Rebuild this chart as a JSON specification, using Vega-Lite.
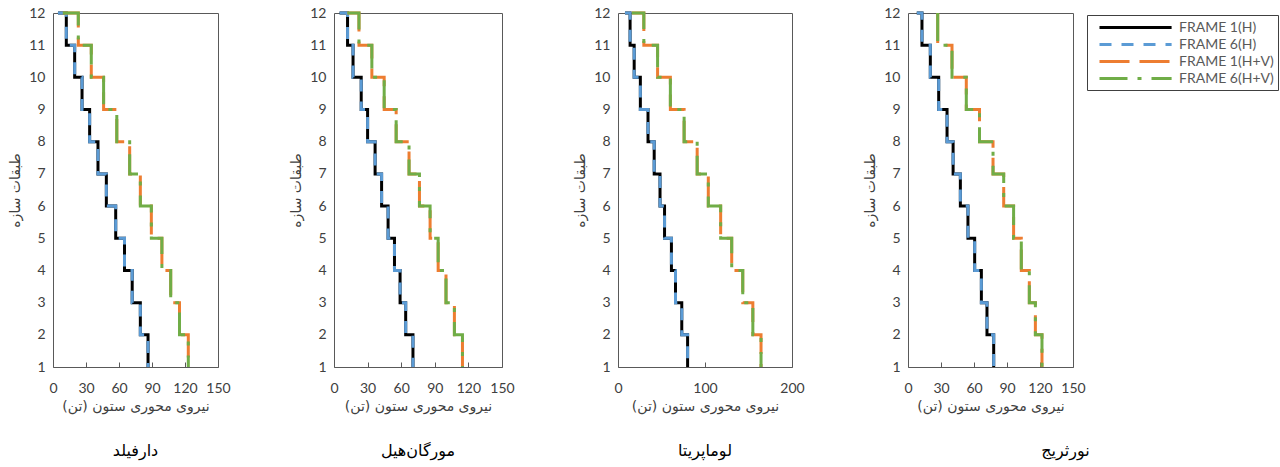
{
  "$schema": "https://vega.github.io/schema/vega-lite/v6.json",
  "background": "white",
  "padding": {"left": 8, "top": 5, "right": 2, "bottom": 5},
  "datasets": {
    "d": [
      {"panel": "p1", "story": 12, "FRAME 1(H)": 4.5, "FRAME 6(H)": 4.5, "FRAME 1(H+V)": 9, "FRAME 6(H+V)": 9},
      {"panel": "p1", "story": 11, "FRAME 1(H)": 12.1, "FRAME 6(H)": 12.1, "FRAME 1(H+V)": 23, "FRAME 6(H+V)": 23},
      {"panel": "p1", "story": 10, "FRAME 1(H)": 19.7, "FRAME 6(H)": 19.7, "FRAME 1(H+V)": 34.8, "FRAME 6(H+V)": 34.8},
      {"panel": "p1", "story": 9, "FRAME 1(H)": 26.4, "FRAME 6(H)": 26.4, "FRAME 1(H+V)": 46, "FRAME 6(H+V)": 46},
      {"panel": "p1", "story": 8, "FRAME 1(H)": 33.3, "FRAME 6(H)": 33.3, "FRAME 1(H+V)": 58, "FRAME 6(H+V)": 58},
      {"panel": "p1", "story": 7, "FRAME 1(H)": 40.9, "FRAME 6(H)": 40.9, "FRAME 1(H+V)": 69.7, "FRAME 6(H+V)": 69.7},
      {"panel": "p1", "story": 6, "FRAME 1(H)": 48.5, "FRAME 6(H)": 48.5, "FRAME 1(H+V)": 79.4, "FRAME 6(H+V)": 79.4},
      {"panel": "p1", "story": 5, "FRAME 1(H)": 57, "FRAME 6(H)": 57, "FRAME 1(H+V)": 89.4, "FRAME 6(H+V)": 89.4},
      {"panel": "p1", "story": 4, "FRAME 1(H)": 65, "FRAME 6(H)": 65, "FRAME 1(H+V)": 99, "FRAME 6(H+V)": 99},
      {"panel": "p1", "story": 3, "FRAME 1(H)": 72, "FRAME 6(H)": 72, "FRAME 1(H+V)": 107, "FRAME 6(H+V)": 107},
      {"panel": "p1", "story": 2, "FRAME 1(H)": 79.4, "FRAME 6(H)": 79.4, "FRAME 1(H+V)": 115, "FRAME 6(H+V)": 115},
      {"panel": "p1", "story": 1, "FRAME 1(H)": 86.4, "FRAME 6(H)": 86.4, "FRAME 1(H+V)": 123, "FRAME 6(H+V)": 123},

      {"panel": "p2", "story": 12, "FRAME 1(H)": 5, "FRAME 6(H)": 5, "FRAME 1(H+V)": 12, "FRAME 6(H+V)": 12},
      {"panel": "p2", "story": 11, "FRAME 1(H)": 12.1, "FRAME 6(H)": 12.1, "FRAME 1(H+V)": 22.3, "FRAME 6(H+V)": 22.3},
      {"panel": "p2", "story": 10, "FRAME 1(H)": 17, "FRAME 6(H)": 17, "FRAME 1(H+V)": 33.8, "FRAME 6(H+V)": 33.8},
      {"panel": "p2", "story": 9, "FRAME 1(H)": 24.3, "FRAME 6(H)": 24.3, "FRAME 1(H+V)": 44.8, "FRAME 6(H+V)": 44.8},
      {"panel": "p2", "story": 8, "FRAME 1(H)": 30, "FRAME 6(H)": 30, "FRAME 1(H+V)": 55.5, "FRAME 6(H+V)": 55.5},
      {"panel": "p2", "story": 7, "FRAME 1(H)": 36.7, "FRAME 6(H)": 36.7, "FRAME 1(H+V)": 67, "FRAME 6(H+V)": 67},
      {"panel": "p2", "story": 6, "FRAME 1(H)": 42.5, "FRAME 6(H)": 42.5, "FRAME 1(H+V)": 76.3, "FRAME 6(H+V)": 76.3},
      {"panel": "p2", "story": 5, "FRAME 1(H)": 48.3, "FRAME 6(H)": 48.3, "FRAME 1(H+V)": 85.8, "FRAME 6(H+V)": 85.8},
      {"panel": "p2", "story": 4, "FRAME 1(H)": 54, "FRAME 6(H)": 54, "FRAME 1(H+V)": 93, "FRAME 6(H+V)": 93},
      {"panel": "p2", "story": 3, "FRAME 1(H)": 59, "FRAME 6(H)": 59, "FRAME 1(H+V)": 100, "FRAME 6(H+V)": 100},
      {"panel": "p2", "story": 2, "FRAME 1(H)": 64, "FRAME 6(H)": 64, "FRAME 1(H+V)": 107.5, "FRAME 6(H+V)": 107.5},
      {"panel": "p2", "story": 1, "FRAME 1(H)": 70.5, "FRAME 6(H)": 70.5, "FRAME 1(H+V)": 114.7, "FRAME 6(H+V)": 114.7},

      {"panel": "p3", "story": 12, "FRAME 1(H)": 8, "FRAME 6(H)": 8, "FRAME 1(H+V)": 16, "FRAME 6(H+V)": 16},
      {"panel": "p3", "story": 11, "FRAME 1(H)": 13.9, "FRAME 6(H)": 13.9, "FRAME 1(H+V)": 29.7, "FRAME 6(H+V)": 29.7},
      {"panel": "p3", "story": 10, "FRAME 1(H)": 18.6, "FRAME 6(H)": 18.6, "FRAME 1(H+V)": 45.5, "FRAME 6(H+V)": 45.5},
      {"panel": "p3", "story": 9, "FRAME 1(H)": 25.7, "FRAME 6(H)": 25.7, "FRAME 1(H+V)": 60.2, "FRAME 6(H+V)": 60.2},
      {"panel": "p3", "story": 8, "FRAME 1(H)": 34.5, "FRAME 6(H)": 34.5, "FRAME 1(H+V)": 76, "FRAME 6(H+V)": 76},
      {"panel": "p3", "story": 7, "FRAME 1(H)": 41.6, "FRAME 6(H)": 41.6, "FRAME 1(H+V)": 91, "FRAME 6(H+V)": 91},
      {"panel": "p3", "story": 6, "FRAME 1(H)": 48.3, "FRAME 6(H)": 48.3, "FRAME 1(H+V)": 103.8, "FRAME 6(H+V)": 103.8},
      {"panel": "p3", "story": 5, "FRAME 1(H)": 53.5, "FRAME 6(H)": 53.5, "FRAME 1(H+V)": 118, "FRAME 6(H+V)": 118},
      {"panel": "p3", "story": 4, "FRAME 1(H)": 61.4, "FRAME 6(H)": 61.4, "FRAME 1(H+V)": 130.7, "FRAME 6(H+V)": 130.7},
      {"panel": "p3", "story": 3, "FRAME 1(H)": 66.1, "FRAME 6(H)": 66.1, "FRAME 1(H+V)": 143.4, "FRAME 6(H+V)": 143.4},
      {"panel": "p3", "story": 2, "FRAME 1(H)": 73.3, "FRAME 6(H)": 73.3, "FRAME 1(H+V)": 155, "FRAME 6(H+V)": 155},
      {"panel": "p3", "story": 1, "FRAME 1(H)": 80, "FRAME 6(H)": 80, "FRAME 1(H+V)": 164.4, "FRAME 6(H+V)": 164.4},

      {"panel": "p4", "story": 12, "FRAME 1(H)": 8, "FRAME 6(H)": 8, "FRAME 1(H+V)": 27, "FRAME 6(H+V)": 27},
      {"panel": "p4", "story": 11, "FRAME 1(H)": 12.7, "FRAME 6(H)": 12.7, "FRAME 1(H+V)": 27, "FRAME 6(H+V)": 27},
      {"panel": "p4", "story": 10, "FRAME 1(H)": 20.3, "FRAME 6(H)": 20.3, "FRAME 1(H+V)": 40, "FRAME 6(H+V)": 40},
      {"panel": "p4", "story": 9, "FRAME 1(H)": 27.9, "FRAME 6(H)": 27.9, "FRAME 1(H+V)": 53, "FRAME 6(H+V)": 53},
      {"panel": "p4", "story": 8, "FRAME 1(H)": 35.5, "FRAME 6(H)": 35.5, "FRAME 1(H+V)": 65, "FRAME 6(H+V)": 65},
      {"panel": "p4", "story": 7, "FRAME 1(H)": 41, "FRAME 6(H)": 41, "FRAME 1(H+V)": 77.3, "FRAME 6(H+V)": 77.3},
      {"panel": "p4", "story": 6, "FRAME 1(H)": 47.6, "FRAME 6(H)": 47.6, "FRAME 1(H+V)": 87, "FRAME 6(H+V)": 87},
      {"panel": "p4", "story": 5, "FRAME 1(H)": 54.5, "FRAME 6(H)": 54.5, "FRAME 1(H+V)": 96, "FRAME 6(H+V)": 96},
      {"panel": "p4", "story": 4, "FRAME 1(H)": 60.6, "FRAME 6(H)": 60.6, "FRAME 1(H+V)": 103, "FRAME 6(H+V)": 103},
      {"panel": "p4", "story": 3, "FRAME 1(H)": 66.7, "FRAME 6(H)": 66.7, "FRAME 1(H+V)": 110.3, "FRAME 6(H+V)": 110.3},
      {"panel": "p4", "story": 2, "FRAME 1(H)": 71.8, "FRAME 6(H)": 71.8, "FRAME 1(H+V)": 115.8, "FRAME 6(H+V)": 115.8},
      {"panel": "p4", "story": 1, "FRAME 1(H)": 77.9, "FRAME 6(H)": 77.9, "FRAME 1(H+V)": 121.8, "FRAME 6(H+V)": 121.8}
    ]
  },
  "data": {"name": "d"},
  "transform": [
    {"fold": ["FRAME 1(H)", "FRAME 6(H)", "FRAME 1(H+V)", "FRAME 6(H+V)"], "as": ["series", "force"]}
  ],
  "spacing": 116,
  "bounds": "flush",
  "resolve": {"scale": {"color": "shared", "strokeDash": "shared"}, "legend": {"color": "shared", "strokeDash": "shared"}},
  "config": {
    "view": {"stroke": "#595959", "strokeWidth": 1},
    "axis": {
      "grid": false,
      "domain": false,
      "labelFont": "Lato",
      "labelFontSize": 14,
      "labelColor": "#404040",
      "labelOverlap": false,
      "labelFlush": false,
      "titleFont": "DejaVu Sans",
      "titleFontSize": 14,
      "titleFontWeight": "normal",
      "titleColor": "#404040"
    },
    "axisX": {"ticks": true, "tickSize": -5, "tickColor": "#595959", "labelPadding": 19, "titlePadding": 4},
    "axisY": {"ticks": false, "labelPadding": 8, "titlePadding": 6},
    "title": {"orient": "bottom", "font": "DejaVu Sans", "fontSize": 16, "fontWeight": "normal", "color": "black", "offset": 30},
    "legend": {
      "orient": "none",
      "legendX": 1034,
      "legendY": 2,
      "strokeColor": "#404040",
      "padding": 4,
      "symbolType": "M0,0H10.3",
      "symbolSize": 196,
      "symbolStrokeWidth": 3,
      "labelOffset": 71,
      "rowPadding": 1,
      "labelFont": "Lato",
      "labelFontSize": 14,
      "labelColor": "#595959",
      "title": null
    }
  },
  "hconcat": [
    {
      "width": 165, "height": 354,
      "transform": [{"filter": "datum.panel == 'p1'"}],
      "title": {"text": "دارفیلد"},
      "mark": {"type": "line", "interpolate": "step-after", "strokeWidth": 3},
      "encoding": {
        "x": {"field": "force", "type": "quantitative", "scale": {"domain": [0, 150], "nice": false}, "axis": {"values": [0, 30, 60, 90, 120, 150], "title": "نیروی محوری ستون (تن)"}},
        "y": {"field": "story", "type": "quantitative", "scale": {"domain": [1, 12], "nice": false, "zero": false}, "axis": {"values": [1,2,3,4,5,6,7,8,9,10,11,12], "title": "طبقات سازه"}},
        "color": {"field": "series", "type": "nominal", "scale": {"domain": ["FRAME 1(H)", "FRAME 6(H)", "FRAME 1(H+V)", "FRAME 6(H+V)"], "range": ["#000000", "#5B9BD5", "#ED7D31", "#70AD47"]}, "title": null},
        "strokeDash": {"field": "series", "type": "nominal", "scale": {"domain": ["FRAME 1(H)", "FRAME 6(H)", "FRAME 1(H+V)", "FRAME 6(H+V)"], "range": [[1, 0], [12, 10], [30, 10], [28, 10, 4, 10]]}, "title": null},
        "order": {"field": "story", "sort": "descending"}
      }
    },
    {
      "width": 168, "height": 354,
      "transform": [{"filter": "datum.panel == 'p2'"}],
      "title": {"text": "مورگان‌هیل"},
      "mark": {"type": "line", "interpolate": "step-after", "strokeWidth": 3},
      "encoding": {
        "x": {"field": "force", "type": "quantitative", "scale": {"domain": [0, 150], "nice": false}, "axis": {"values": [0, 30, 60, 90, 120, 150], "title": "نیروی محوری ستون (تن)"}},
        "y": {"field": "story", "type": "quantitative", "scale": {"domain": [1, 12], "nice": false, "zero": false}, "axis": {"values": [1,2,3,4,5,6,7,8,9,10,11,12], "title": "طبقات سازه"}},
        "color": {"field": "series", "type": "nominal", "scale": {"domain": ["FRAME 1(H)", "FRAME 6(H)", "FRAME 1(H+V)", "FRAME 6(H+V)"], "range": ["#000000", "#5B9BD5", "#ED7D31", "#70AD47"]}, "title": null},
        "strokeDash": {"field": "series", "type": "nominal", "scale": {"domain": ["FRAME 1(H)", "FRAME 6(H)", "FRAME 1(H+V)", "FRAME 6(H+V)"], "range": [[1, 0], [12, 10], [30, 10], [28, 10, 4, 10]]}, "title": null},
        "order": {"field": "story", "sort": "descending"}
      }
    },
    {
      "width": 174, "height": 354,
      "transform": [{"filter": "datum.panel == 'p3'"}],
      "title": {"text": "لوماپریتا"},
      "mark": {"type": "line", "interpolate": "step-after", "strokeWidth": 3},
      "encoding": {
        "x": {"field": "force", "type": "quantitative", "scale": {"domain": [0, 200], "nice": false}, "axis": {"values": [0, 100, 200], "title": "نیروی محوری ستون (تن)"}},
        "y": {"field": "story", "type": "quantitative", "scale": {"domain": [1, 12], "nice": false, "zero": false}, "axis": {"values": [1,2,3,4,5,6,7,8,9,10,11,12], "title": "طبقات سازه"}},
        "color": {"field": "series", "type": "nominal", "scale": {"domain": ["FRAME 1(H)", "FRAME 6(H)", "FRAME 1(H+V)", "FRAME 6(H+V)"], "range": ["#000000", "#5B9BD5", "#ED7D31", "#70AD47"]}, "title": null},
        "strokeDash": {"field": "series", "type": "nominal", "scale": {"domain": ["FRAME 1(H)", "FRAME 6(H)", "FRAME 1(H+V)", "FRAME 6(H+V)"], "range": [[1, 0], [12, 10], [30, 10], [28, 10, 4, 10]]}, "title": null},
        "order": {"field": "story", "sort": "descending"}
      }
    },
    {
      "width": 165, "height": 354,
      "transform": [{"filter": "datum.panel == 'p4'"}],
      "title": {"text": "نورثریج", "dx": 75},
      "mark": {"type": "line", "interpolate": "step-after", "strokeWidth": 3},
      "encoding": {
        "x": {"field": "force", "type": "quantitative", "scale": {"domain": [0, 150], "nice": false}, "axis": {"values": [0, 30, 60, 90, 120, 150], "title": "نیروی محوری ستون (تن)"}},
        "y": {"field": "story", "type": "quantitative", "scale": {"domain": [1, 12], "nice": false, "zero": false}, "axis": {"values": [1,2,3,4,5,6,7,8,9,10,11,12], "title": "طبقات سازه"}},
        "color": {"field": "series", "type": "nominal", "scale": {"domain": ["FRAME 1(H)", "FRAME 6(H)", "FRAME 1(H+V)", "FRAME 6(H+V)"], "range": ["#000000", "#5B9BD5", "#ED7D31", "#70AD47"]}, "title": null},
        "strokeDash": {"field": "series", "type": "nominal", "scale": {"domain": ["FRAME 1(H)", "FRAME 6(H)", "FRAME 1(H+V)", "FRAME 6(H+V)"], "range": [[1, 0], [12, 10], [30, 10], [28, 10, 4, 10]]}, "title": null},
        "order": {"field": "story", "sort": "descending"}
      }
    }
  ]
}
